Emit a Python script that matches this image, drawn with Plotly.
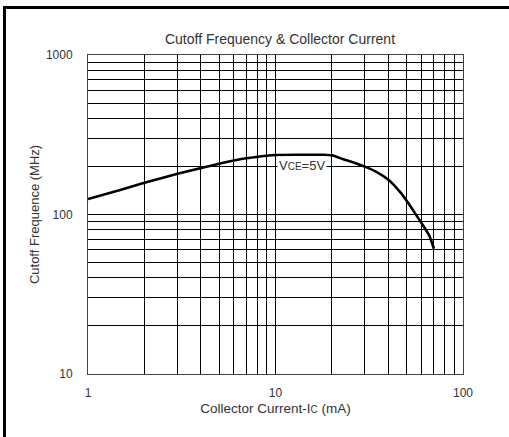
import math
import plotly.graph_objects as go

title_text = "Cutoff Frequency &amp; Collector Current"
x_title = "Collector Current-I<span style='font-size:10px'>C</span> (mA)"
y_title = "Cutoff Frequence (MHz)"
curve_label = "V<span style='font-size:10px'>CE</span>=5V"

ic_ma = [1, 1.5, 2, 3, 5, 7, 10, 13.5, 18, 20, 23, 26, 30, 34.5, 40.3, 46, 50.5, 55.4, 60.6, 66, 70]
ft_mhz = [125, 143, 158, 180, 208, 225, 236, 237, 237, 235, 222, 212, 199.5, 185, 164, 139, 120, 102, 87, 74, 61]

x_ticks = [1, 10, 100]
y_ticks = [10, 100, 1000]
label_ic, label_ft = 13.8, 204

font_family = "Liberation Sans, Arial, sans-serif"
text_color = "#333333"

fig = go.Figure()
fig.add_trace(go.Scatter(
    x=ic_ma, y=ft_mhz, mode="lines",
    line=dict(color="black", width=2.6, shape="spline", smoothing=0.5),
    showlegend=False, hoverinfo="skip",
))

# annotations on log axes take log10 coordinates
fig.add_annotation(
    x=math.log10(label_ic), y=math.log10(label_ft), xref="x", yref="y",
    text=curve_label, showarrow=False,
    font=dict(family=font_family, size=13, color=text_color),
    bgcolor="white", borderpad=1,
    xanchor="center", yanchor="middle",
)

# outer frame
fig.add_shape(type="rect", xref="paper", yref="paper",
              x0=-0.2227, x1=1.14, y0=-0.23, y1=1.149,
              line=dict(color="black", width=3), layer="above")

axis_common = dict(
    type="log",
    showgrid=True, gridcolor="black", gridwidth=1,
    showline=True, mirror=True, linecolor="#444", linewidth=1,
    zeroline=False, ticks="",
    tickfont=dict(family=font_family, size=12, color=text_color),
    minor=dict(showgrid=True, gridcolor="black", gridwidth=1, dtick="D1", ticks=""),
)

fig.update_xaxes(
    **axis_common,
    range=[0, 2], tickvals=x_ticks, ticktext=[str(v) for v in x_ticks],
    ticklabelstandoff=8,
    title=dict(text=x_title, font=dict(family=font_family, size=13.5, color=text_color), standoff=4),
)
fig.update_yaxes(
    **axis_common,
    range=[1, 3], tickvals=y_ticks, ticktext=[str(v) for v in y_ticks],
    ticklabelstandoff=12,
    title=dict(text=y_title, font=dict(family=font_family, size=13, color=text_color), standoff=3),
)

fig.update_layout(
    width=509, height=437,
    margin=dict(l=88, r=46, t=55, b=63),
    paper_bgcolor="white", plot_bgcolor="white",
    title=dict(text=title_text, x=(280 / 509), xanchor="center", y=1 - 39 / 437, yanchor="middle",
               font=dict(family=font_family, size=14, color=text_color)),
)

fig.write_html("out.html", config={"displayModeBar": False},
               post_script="document.body.style.margin='0';document.body.style.padding='0';")
